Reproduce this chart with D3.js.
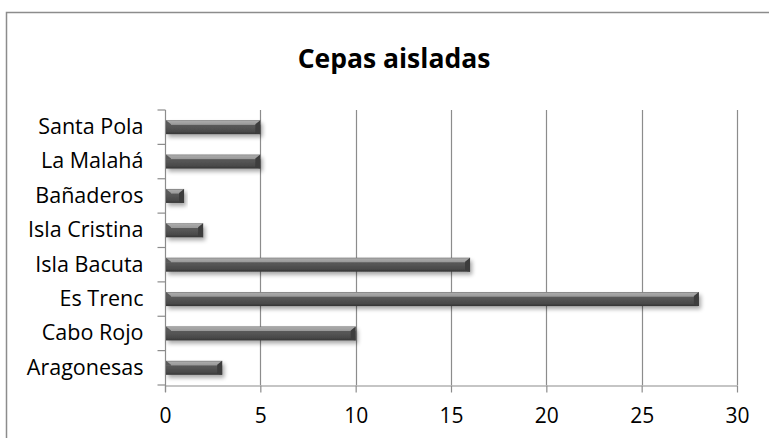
<!DOCTYPE html>
<html>
<head>
<meta charset="utf-8">
<script src="https://cdn.jsdelivr.net/npm/d3@7"></script>
<style>
  html, body { margin: 0; padding: 0; background: #fff; }
  svg { display: block; }
</style>
</head>
<body>
<svg id="chart" width="769" height="438"></svg>
<script>
// Strain counts by sampling site (top to bottom as drawn)
const categories = ["Santa Pola", "La Malahá", "Bañaderos", "Isla Cristina", "Isla Bacuta", "Es Trenc", "Cabo Rojo", "Aragonesas"];
const values = [5, 5, 1, 2, 16, 28, 10, 3];
const xTicks = [0, 5, 10, 15, 20, 25, 30];
const title = "Cepas aisladas";

const W = 769, H = 438;
const plot = { left: 165, right: 737, top: 110, bottom: 385 };
const font = "'Open Sans', 'Noto Sans', sans-serif";

const svg = d3.select("#chart");

// Defs: bar gradient and soft shadow
const defs = svg.append("defs");
const grad = defs.append("linearGradient").attr("id", "barGrad")
  .attr("x1", 0).attr("y1", 0).attr("x2", 0).attr("y2", 1);
[[0, "#6e6e6e"], [0.08, "#a9a9a9"], [0.3, "#9a9a9a"], [0.36, "#595959"], [0.8, "#4a4a4a"], [1, "#353535"]]
  .forEach(([o, c]) => grad.append("stop").attr("offset", o).attr("stop-color", c));

const shadow = defs.append("filter").attr("id", "shadow")
  .attr("x", "-10%").attr("y", "-50%").attr("width", "130%").attr("height", "250%");
shadow.append("feGaussianBlur").attr("in", "SourceAlpha").attr("stdDeviation", 2).attr("result", "b");
shadow.append("feOffset").attr("in", "b").attr("dx", 2).attr("dy", 3).attr("result", "o");
shadow.append("feComponentTransfer").attr("in", "o").attr("result", "s")
  .append("feFuncA").attr("type", "linear").attr("slope", 0.35);
const merge = shadow.append("feMerge");
merge.append("feMergeNode").attr("in", "s");
merge.append("feMergeNode").attr("in", "SourceGraphic");

// Chart frame (right and bottom edges fall outside the view)
svg.append("rect")
  .attr("x", 6.5).attr("y", 12.5).attr("width", W + 10).attr("height", H + 10)
  .attr("fill", "none").attr("stroke", "#8c8c8c").attr("stroke-width", 1.5);

// Title
svg.append("text")
  .attr("x", 394).attr("y", 68)
  .attr("text-anchor", "middle")
  .attr("font-family", font).attr("font-weight", "bold").attr("font-size", 26.5)
  .attr("fill", "#000")
  .text(title);

const x = d3.scaleLinear().domain([0, 30]).range([plot.left, plot.right]);
const y = d3.scaleBand().domain(categories).range([plot.top, plot.bottom]);

// Vertical gridlines
svg.append("g").selectAll("line").data(xTicks.slice(1)).join("line")
  .attr("x1", d => Math.round(x(d)) + 0.5).attr("x2", d => Math.round(x(d)) + 0.5)
  .attr("y1", plot.top).attr("y2", plot.bottom)
  .attr("stroke", "#8c8c8c").attr("stroke-width", 1.2);

// X axis
const xAxis = svg.append("g")
  .attr("transform", `translate(0,${plot.bottom + 0.5})`)
  .call(d3.axisBottom(x).tickValues(xTicks).tickSize(7).tickPadding(16).tickSizeOuter(0));
xAxis.select(".domain").attr("stroke", "#8c8c8c").attr("stroke-width", 1.2);
xAxis.selectAll(".tick line").attr("stroke", "#8c8c8c").attr("stroke-width", 1.2);
xAxis.selectAll("text").attr("font-family", font).attr("font-size", 21).attr("fill", "#000");

// Y axis: ticks sit on band boundaries
const yAxis = svg.append("g")
  .attr("transform", `translate(${plot.left + 0.5},0)`)
  .call(d3.axisLeft(y).tickSize(0).tickPadding(22));
yAxis.select(".domain").remove();
yAxis.selectAll("text").attr("font-family", font).attr("font-size", 21.5).attr("fill", "#000");
yAxis.append("path")
  .attr("d", `M0,${plot.top}V${plot.bottom + 7}`)
  .attr("stroke", "#8c8c8c").attr("stroke-width", 1.2).attr("fill", "none");
const bounds = categories.map(c => y(c)).concat([plot.bottom]);
yAxis.selectAll("line.bt").data(bounds).join("line").attr("class", "bt")
  .attr("x1", -8).attr("x2", 0)
  .attr("y1", d => d).attr("y2", d => d)
  .attr("stroke", "#8c8c8c").attr("stroke-width", 1.2);

// Bars with bevelled ends
const barH = 14;
const bars = svg.append("g").selectAll("g").data(categories.map((c, i) => ({ c, v: values[i] }))).join("g")
  .attr("filter", "url(#shadow)");
bars.append("rect")
  .attr("x", plot.left + 1)
  .attr("y", d => y(d.c) + y.bandwidth() / 2 - barH / 2)
  .attr("width", d => x(d.v) - plot.left - 1)
  .attr("height", barH)
  .attr("fill", "url(#barGrad)");
// right end bevel
bars.append("path")
  .attr("d", d => {
    const x1 = x(d.v), y0 = y(d.c) + y.bandwidth() / 2 - barH / 2;
    return `M${x1 - 5},${y0 + 4}L${x1},${y0}L${x1},${y0 + barH}L${x1 - 5},${y0 + barH - 1}Z`;
  })
  .attr("fill", "#3c3c3c");
// left end bevel highlight
bars.append("path")
  .attr("d", d => {
    const x0 = plot.left + 1, y0 = y(d.c) + y.bandwidth() / 2 - barH / 2;
    return `M${x0},${y0}L${x0 + 5},${y0 + 4}L${x0 + 5},${y0 + 5}L${x0},${y0 + 5}Z`;
  })
  .attr("fill", "#5a5a5a");
</script>
</body>
</html>
